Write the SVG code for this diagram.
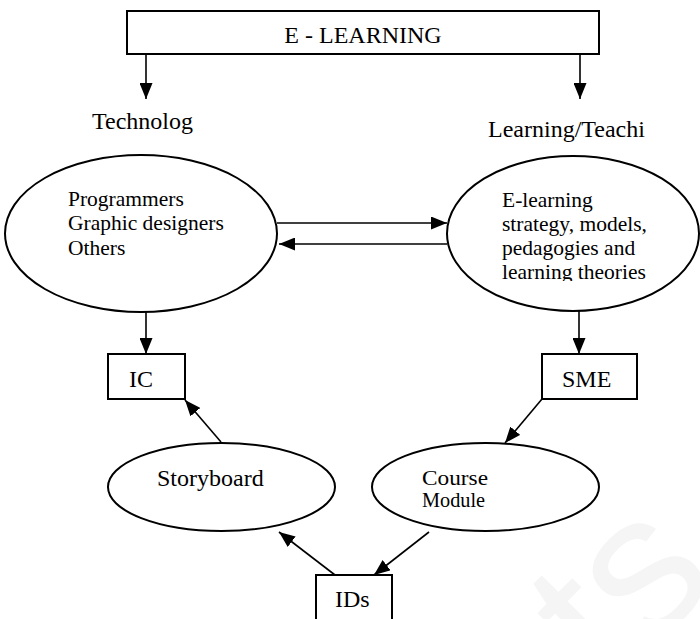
<svg xmlns="http://www.w3.org/2000/svg" width="700" height="619" viewBox="0 0 700 619">
  <style>
    .lbl { font-family: "Liberation Serif", "Times New Roman", serif; font-size: 24px; fill: #000; }
    .txt { font-family: "Liberation Serif", "Times New Roman", serif; font-size: 21.5px; fill: #000; }
    .shape { fill: #fff; stroke: #000; stroke-width: 2; }
    .conn { stroke: #000; stroke-width: 1.6; fill: none; marker-end: url(#arrow); }
    .wm { font-family: "Liberation Sans", Arial, sans-serif; font-size: 200px; fill: #f5f5f5; }
  </style>
  <defs>
    <marker id="arrow" markerUnits="userSpaceOnUse" markerWidth="16" markerHeight="13" refX="16" refY="6.5" orient="auto">
      <path d="M0,0 L16,6.5 L0,13 z" fill="#000"/>
    </marker>
    <clipPath id="clipRight">
      <rect x="440" y="150" width="260" height="131"/>
    </clipPath>
  </defs>
  <rect width="700" height="619" fill="#fff"/>
  <text class="wm" transform="translate(610,690) rotate(-45)">ts</text>

  <g id="connectors">
    <line class="conn" x1="146" y1="55" x2="146" y2="99"/>
    <line class="conn" x1="580" y1="55" x2="580" y2="99"/>
    <line class="conn" x1="277" y1="223" x2="447" y2="223"/>
    <line class="conn" x1="447" y1="244" x2="279" y2="244"/>
    <line class="conn" x1="146" y1="312" x2="146" y2="354"/>
    <line class="conn" x1="579" y1="311" x2="579" y2="354"/>
    <line class="conn" x1="542" y1="399" x2="505" y2="443"/>
    <line class="conn" x1="429" y1="532" x2="374" y2="575"/>
    <line class="conn" x1="335" y1="575" x2="279" y2="532"/>
    <line class="conn" x1="221" y1="442" x2="185" y2="400"/>
  </g>

  <g id="elearning">
    <rect class="shape" x="127" y="11" width="472" height="43"/>
    <text class="lbl" x="363" y="43" text-anchor="middle">E - LEARNING</text>
  </g>
  <g id="technolog-label">
    <text class="lbl" x="92" y="129">Technolog</text>
  </g>
  <g id="learning-label">
    <text class="lbl" x="488" y="137">Learning/Teachi</text>
  </g>
  <g id="technology">
    <ellipse class="shape" cx="141" cy="233.5" rx="136" ry="78.5"/>
    <text class="txt" x="68" y="206">Programmers</text>
    <text class="txt" x="68" y="230">Graphic designers</text>
    <text class="txt" x="68" y="255">Others</text>
  </g>
  <g id="pedagogy">
    <ellipse class="shape" cx="573" cy="233.5" rx="126" ry="77.5"/>
    <g clip-path="url(#clipRight)">
      <text class="txt" x="502" y="207">E-learning</text>
      <text class="txt" x="502" y="231">strategy, models,</text>
      <text class="txt" x="502" y="255">pedagogies and</text>
      <text class="txt" x="502" y="279">learning theories</text>
    </g>
  </g>
  <g id="ic">
    <rect class="shape" x="108" y="354" width="77" height="45"/>
    <text class="lbl" x="129" y="387">IC</text>
  </g>
  <g id="sme">
    <rect class="shape" x="542" y="354" width="95" height="45"/>
    <text class="lbl" x="562" y="387">SME</text>
  </g>
  <g id="storyboard">
    <ellipse class="shape" cx="221.5" cy="487" rx="113.5" ry="44"/>
    <text class="lbl" x="157" y="486">Storyboard</text>
  </g>
  <g id="course">
    <ellipse class="shape" cx="485.5" cy="487" rx="113.5" ry="44"/>
    <text class="txt" x="422" y="485" textLength="66" lengthAdjust="spacingAndGlyphs">Course</text>
    <text class="txt" x="422" y="507" style="font-size:20px" textLength="63" lengthAdjust="spacingAndGlyphs">Module</text>
  </g>
  <g id="ids">
    <rect class="shape" x="316" y="575" width="76" height="60"/>
    <text class="lbl" x="335" y="607">IDs</text>
  </g>
</svg>
